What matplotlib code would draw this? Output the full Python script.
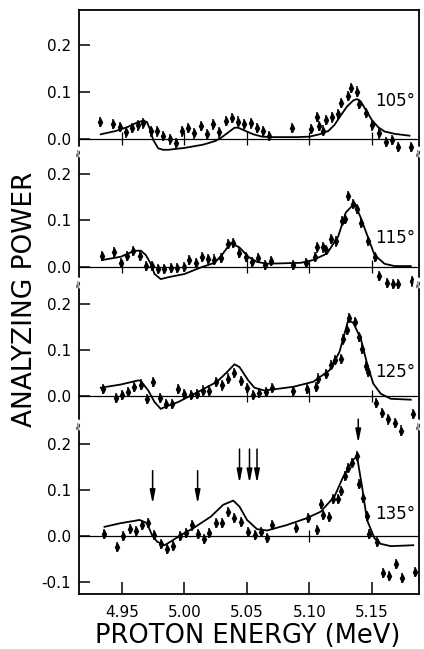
# Analyzing power vs proton energy at four angles (105, 115, 125, 135 deg).
# Data points, solid line is the fit curve.
import numpy as np
import matplotlib.pyplot as plt


# 105 deg data.
e_105 = [4.932, 4.943, 4.948, 4.953, 4.958, 4.963, 4.967, 4.973, 4.978, 4.983,
         4.988, 4.993, 4.998, 5.003, 5.008, 5.013, 5.018, 5.023, 5.028, 5.033,
         5.038, 5.043, 5.048, 5.053, 5.058, 5.063, 5.068, 5.086, 5.101, 5.106,
         5.108, 5.111, 5.113, 5.118, 5.123, 5.125, 5.131, 5.133, 5.138, 5.140,
         5.145, 5.150, 5.156, 5.161, 5.166, 5.171, 5.181]
a_105 = [0.036, 0.032, 0.025, 0.014, 0.023, 0.029, 0.033, 0.016, 0.016, 0.007,
         -0.001, -0.008, 0.016, 0.023, 0.012, 0.028, 0.010, 0.031, 0.014, 0.038,
         0.044, 0.037, 0.031, 0.033, 0.023, 0.016, 0.007, 0.023, 0.021, 0.047,
         0.027, 0.018, 0.040, 0.046, 0.053, 0.077, 0.091, 0.109, 0.101, 0.074,
         0.056, 0.029, 0.012, -0.006, -0.002, -0.017, -0.017]
fit_e_105 = [4.933, 4.945, 4.955, 4.962, 4.967, 4.970, 4.972, 4.975, 4.979, 4.983,
             4.987, 5.000, 5.015, 5.025, 5.030, 5.035, 5.040, 5.043, 5.048, 5.055,
             5.062, 5.070, 5.090, 5.100, 5.108, 5.115, 5.120, 5.125, 5.130, 5.135,
             5.138, 5.141, 5.145, 5.150, 5.155, 5.160, 5.168, 5.180]
fit_a_105 = [0.010, 0.017, 0.026, 0.035, 0.039, 0.036, 0.023, -0.002, -0.020, -0.023,
             -0.023, -0.019, -0.012, -0.004, 0.004, 0.014, 0.024, 0.024, 0.018, 0.010,
             0.005, 0.004, 0.004, 0.005, 0.010, 0.017, 0.030, 0.050, 0.069, 0.082,
             0.085, 0.080, 0.062, 0.040, 0.025, 0.016, 0.011, 0.007]

# 115 deg data.
e_115 = [4.934, 4.944, 4.949, 4.954, 4.959, 4.964, 4.969, 4.974, 4.979, 4.984,
         4.989, 4.994, 5.000, 5.004, 5.009, 5.014, 5.019, 5.024, 5.029, 5.035,
         5.039, 5.044, 5.049, 5.054, 5.059, 5.064, 5.069, 5.087, 5.097, 5.104,
         5.106, 5.111, 5.113, 5.117, 5.121, 5.126, 5.128, 5.131, 5.135, 5.138,
         5.141, 5.147, 5.152, 5.156, 5.162, 5.167, 5.171, 5.182]
a_115 = [0.023, 0.033, 0.009, 0.024, 0.034, 0.023, 0.002, 0.002, -0.004, -0.005,
         -0.002, -0.002, 0.000, 0.015, 0.009, 0.022, 0.018, 0.016, 0.020, 0.049,
         0.051, 0.031, 0.022, 0.011, 0.020, 0.004, 0.013, 0.005, 0.009, 0.022,
         0.042, 0.042, 0.036, 0.061, 0.055, 0.099, 0.104, 0.153, 0.135, 0.124,
         0.095, 0.056, 0.022, -0.020, -0.035, -0.036, -0.036, -0.031]
fit_e_115 = [4.934, 4.949, 4.960, 4.965, 4.969, 4.973, 4.976, 4.981, 4.987, 5.000,
             5.013, 5.024, 5.030, 5.037, 5.044, 5.051, 5.058, 5.066, 5.093, 5.103,
             5.114, 5.123, 5.129, 5.136, 5.141, 5.147, 5.152, 5.160, 5.168, 5.181]
fit_a_115 = [0.015, 0.022, 0.035, 0.035, 0.026, 0.007, -0.015, -0.026, -0.022, -0.015,
             -0.001, 0.009, 0.026, 0.052, 0.042, 0.022, 0.011, 0.007, 0.009, 0.015,
             0.029, 0.066, 0.117, 0.137, 0.106, 0.062, 0.026, 0.007, 0.002, 0.002]

# 125 deg data.
e_125 = [4.935, 4.945, 4.950, 4.955, 4.960, 4.965, 4.970, 4.975, 4.980, 4.985,
         4.990, 4.995, 5.000, 5.005, 5.010, 5.015, 5.020, 5.025, 5.030, 5.035,
         5.040, 5.045, 5.050, 5.055, 5.060, 5.065, 5.070, 5.087, 5.098, 5.105,
         5.107, 5.113, 5.117, 5.120, 5.125, 5.127, 5.130, 5.132, 5.136, 5.140,
         5.142, 5.145, 5.147, 5.153, 5.158, 5.163, 5.168, 5.173, 5.183]
a_125 = [0.015, -0.004, 0.002, 0.009, 0.020, 0.025, -0.006, 0.031, -0.004, -0.017,
         -0.017, 0.015, 0.005, 0.002, 0.005, 0.012, 0.012, 0.031, 0.023, 0.038,
         0.050, 0.032, 0.018, 0.002, 0.007, 0.009, 0.017, 0.010, 0.016, 0.020,
         0.038, 0.047, 0.067, 0.078, 0.081, 0.123, 0.143, 0.169, 0.160, 0.129,
         0.103, 0.065, 0.052, -0.016, -0.036, -0.051, -0.058, -0.075, -0.039]
fit_e_125 = [4.933, 4.949, 4.963, 4.965, 4.971, 4.976, 4.981, 4.985, 4.995, 5.013,
             5.026, 5.034, 5.040, 5.044, 5.051, 5.056, 5.064, 5.087, 5.103, 5.116,
             5.124, 5.131, 5.135, 5.141, 5.146, 5.151, 5.157, 5.165, 5.181]
fit_a_125 = [0.018, 0.025, 0.034, 0.033, 0.012, -0.013, -0.028, -0.023, -0.013, 0.012,
             0.031, 0.052, 0.069, 0.063, 0.034, 0.018, 0.012, 0.020, 0.031, 0.056,
             0.096, 0.165, 0.159, 0.125, 0.071, 0.027, 0.005, -0.006, -0.008]

# 135 deg data.
e_135 = [4.936, 4.946, 4.951, 4.956, 4.961, 4.966, 4.971, 4.976, 4.981, 4.986,
         4.991, 4.996, 5.001, 5.006, 5.011, 5.016, 5.020, 5.025, 5.030, 5.035,
         5.040, 5.045, 5.051, 5.056, 5.061, 5.066, 5.070, 5.089, 5.099, 5.106,
         5.109, 5.111, 5.116, 5.119, 5.123, 5.125, 5.128, 5.131, 5.134, 5.138,
         5.140, 5.143, 5.146, 5.148, 5.154, 5.159, 5.164, 5.169, 5.174, 5.184]
a_135 = [0.004, -0.023, 0.000, 0.015, 0.011, 0.024, 0.028, 0.002, -0.018, -0.029,
         -0.022, 0.000, 0.007, 0.023, 0.004, -0.007, 0.007, 0.028, 0.028, 0.053,
         0.039, 0.031, 0.009, 0.002, 0.009, -0.005, 0.024, 0.017, 0.039, 0.013,
         0.069, 0.046, 0.042, 0.081, 0.080, 0.098, 0.131, 0.148, 0.159, 0.173,
         0.113, 0.082, 0.044, 0.004, -0.012, -0.080, -0.086, -0.061, -0.092, -0.078]
fit_e_135 = [4.936, 4.949, 4.960, 4.964, 4.970, 4.974, 4.978, 4.984, 4.989, 4.997,
             5.007, 5.021, 5.031, 5.039, 5.044, 5.050, 5.058, 5.066, 5.082, 5.098,
             5.109, 5.120, 5.127, 5.135, 5.138, 5.142, 5.146, 5.152, 5.157, 5.165,
             5.183]
fit_a_135 = [0.020, 0.028, 0.033, 0.035, 0.028, 0.002, -0.012, -0.020, -0.012, 0.002,
             0.017, 0.042, 0.068, 0.077, 0.064, 0.035, 0.015, 0.012, 0.024, 0.039,
             0.053, 0.086, 0.129, 0.166, 0.173, 0.108, 0.035, -0.005, -0.017, -0.022,
             -0.020]

# Resonance arrows in the 135 deg panel (energy, tail, head).
arrow_e = [4.9745, 5.0105, 5.044, 5.052, 5.058, 5.139]
arrow_tail = [0.142, 0.142, 0.189, 0.189, 0.189, 0.254]
arrow_head = [0.070, 0.070, 0.115, 0.115, 0.115, 0.202]

angle_labels = ["105°", "115°", "125°", "135°"]
label_y = [0.081, 0.062, 0.053, 0.048]
err = 0.011

energies = [e_105, e_115, e_125, e_135]
powers = [a_105, a_115, a_125, a_135]
fit_es = [fit_e_105, fit_e_115, fit_e_125, fit_e_135]
fit_as = [fit_a_105, fit_a_115, fit_a_125, fit_a_135]

# Panel layout in pixels (top, bottom) and y limits.
W, H = 424, 649
left_px, right_px = 79, 419
panel_px = [(10, 152), (152, 283), (283, 425), (425, 594)]
ylims = [(-0.0277, 0.2745), (-0.0344, 0.2473), (-0.063, 0.2457), (-0.126, 0.2413)]
xlim = (4.9156, 5.1876)
# Which x tick marks cross the zero line in each panel.
zero_ticks = [[4.95, 5.00, 5.05, 5.10, 5.15], [4.95, 5.05, 5.10, 5.15],
              [5.05, 5.10, 5.15], [5.10]]

fig = plt.figure(figsize=(W / 100, H / 100), dpi=100)
axes = []
for i in range(4):
    top, bot = panel_px[i]
    ax = fig.add_axes([left_px / W, 1 - bot / H, (right_px - left_px) / W, (bot - top) / H])
    ax.set_xlim(*xlim)
    ax.set_ylim(*ylims[i])
    ax.patch.set_alpha(0)
    for s in ax.spines.values():
        s.set_linewidth(1.3)
    ax.spines["top"].set_visible(i == 0)
    ax.spines["bottom"].set_visible(i == 3)
    ax.axhline(0, color="k", lw=0.9, zorder=1)
    ax.vlines(zero_ticks[i], -0.012, 0.014, color="k", lw=0.9, zorder=1)

    # Data points with error bars and the fit curve.
    ax.errorbar(energies[i], powers[i], yerr=err, fmt="d", color="k", ms=3.6,
                elinewidth=1.1, capsize=0, clip_on=False, zorder=3)
    ax.plot(fit_es[i], fit_as[i], color="k", lw=1.3, zorder=2)

    ax.text(5.1845, label_y[i], angle_labels[i], ha="right", va="center", fontsize=12)

    yt = [0.0, 0.1, 0.2] if i < 3 else [-0.1, 0.0, 0.1, 0.2]
    ax.set_yticks(yt)
    ax.set_yticklabels([f"{v:.1f}" for v in yt])
    ax.tick_params(axis="y", direction="in", length=8, width=1.1, labelsize=11, pad=6)
    ax.tick_params(axis="x", direction="in", length=9, width=1.1, labelsize=11, pad=8)
    ax.set_xticks([4.95, 5.00, 5.05, 5.10, 5.15])
    if i < 3:
        ax.tick_params(axis="x", bottom=False, labelbottom=False)
    else:
        ax.set_xticklabels(["4.95", "5.00", "5.05", "5.10", "5.15"])
    axes.append(ax)

# Arrows marking resonances in the bottom panel.
for x, t, h in zip(arrow_e, arrow_tail, arrow_head):
    axes[3].annotate("", xy=(x, h), xytext=(x, t), annotation_clip=False,
                     arrowprops=dict(arrowstyle="-|>,head_width=0.16,head_length=0.8",
                                     color="k", lw=1.1, shrinkA=0, shrinkB=0))

# Axis break marks on both spines between panels.
for yb in [152, 283, 425]:
    for xb in [left_px, right_px]:
        fig.text(xb / W, 1 - yb / H, "≈", ha="center", va="center", fontsize=8,
                 rotation=80, bbox=dict(boxstyle="square,pad=0.05", fc="white", ec="none"))

fig.text(248 / W, 1 - 636 / H, "PROTON ENERGY (MeV)", ha="center", va="center", fontsize=18.5)
fig.text(25 / W, 1 - 299 / H, "ANALYZING POWER", ha="center", va="center",
         rotation=90, fontsize=19)

fig.savefig("out.png", dpi=100)
